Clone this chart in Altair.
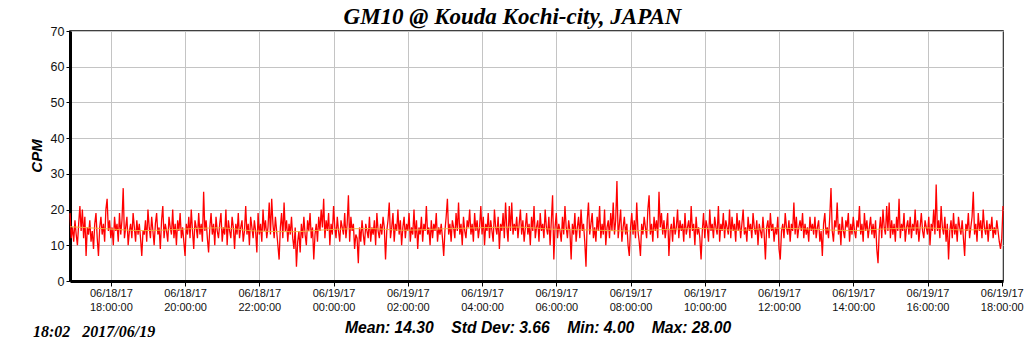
import altair as alt
import pandas as pd

cpm_a = [19, 12, 15, 11, 17, 13, 10, 16, 21, 14, 20, 12, 18, 7, 15, 13, 17, 11, 14, 9,
         16, 19, 12, 7, 15, 18, 13, 16, 11, 20, 23, 14, 17, 12, 15, 10, 18, 14, 16, 11,
         19, 13, 17, 26, 12, 15, 18, 10, 14, 16, 12, 19, 15, 11, 17, 13, 16, 12, 7, 14]
cpm_b = [13, 17, 11, 20, 15, 12, 18, 14, 10, 16, 19, 13, 15, 9, 17, 21, 12, 16, 14, 11,
         18, 15, 13, 20, 12, 16, 10, 17, 14, 19, 12, 15, 11, 7, 16, 13, 18, 12, 20, 14,
         9, 17, 15, 12, 19, 13, 16, 11, 25, 14, 17, 12, 8, 15, 19, 13, 16, 10, 18, 14]
cpm_c = [12, 16, 19, 11, 15, 13, 20, 10, 17, 14, 12, 18, 15, 9, 16, 13, 19, 12, 15, 17,
         11, 14, 21, 13, 16, 10, 18, 15, 12, 17, 14, 8, 19, 13, 16, 11, 20, 14, 17, 12,
         15, 22, 13, 23, 16, 12, 18, 14, 10, 6, 15, 19, 12, 22, 14, 17, 11, 16, 13, 18]
cpm_d = [12, 9, 15, 4, 11, 14, 8, 16, 12, 18, 13, 10, 17, 14, 19, 12, 15, 6, 13, 16,
         11, 18, 14, 20, 15, 23, 12, 17, 14, 19, 10, 16, 13, 21, 15, 12, 18, 14, 11, 17,
         15, 13, 19, 12, 16, 24, 11, 18, 14, 16, 9, 13, 12, 5, 15, 11, 17, 13, 10, 16]
cpm_e = [14, 12, 18, 11, 15, 13, 17, 10, 19, 14, 12, 16, 13, 18, 15, 6, 14, 17, 22, 12,
         15, 19, 11, 16, 14, 20, 13, 17, 10, 15, 18, 12, 16, 14, 19, 11, 15, 13, 20, 12,
         17, 9, 15, 13, 18, 11, 16, 14, 21, 13, 15, 10, 17, 12, 16, 14, 19, 11, 15, 13]
cpm_f = [16, 12, 7, 14, 18, 23, 13, 16, 11, 17, 15, 12, 19, 14, 22, 13, 16, 10, 18, 14,
         12, 17, 15, 20, 13, 16, 11, 19, 14, 17, 12, 15, 21, 13, 18, 10, 16, 14, 19, 12,
         17, 14, 11, 20, 15, 13, 18, 9, 16, 14, 19, 12, 22, 15, 11, 21, 14, 22, 13, 16]
cpm_g = [14, 18, 12, 16, 20, 13, 17, 11, 15, 19, 13, 16, 10, 18, 14, 21, 12, 15, 17, 11,
         19, 14, 16, 12, 20, 15, 13, 18, 10, 17, 24, 6, 15, 19, 12, 16, 14, 11, 18, 13,
         21, 15, 12, 17, 14, 6, 16, 13, 19, 11, 15, 18, 12, 20, 14, 16, 11, 4, 17, 22]
cpm_h = [13, 16, 19, 12, 15, 11, 18, 14, 21, 12, 16, 13, 20, 10, 15, 17, 12, 19, 14, 22,
         13, 17, 28, 12, 16, 20, 11, 15, 18, 13, 16, 10, 7, 15, 19, 13, 17, 12, 22, 14,
         11, 7, 16, 13, 18, 15, 12, 20, 24, 13, 16, 11, 18, 14, 17, 12, 25, 15, 19, 13]
cpm_i = [17, 12, 15, 19, 7, 14, 16, 11, 18, 13, 15, 20, 12, 17, 14, 16, 11, 19, 13, 15,
         17, 12, 21, 14, 16, 10, 18, 13, 15, 12, 6, 14, 19, 12, 17, 15, 11, 20, 14, 16,
         12, 18, 15, 13, 21, 11, 16, 14, 19, 12, 17, 15, 13, 20, 12, 18, 14, 16, 11, 19]
cpm_j = [14, 17, 12, 16, 20, 13, 15, 11, 18, 14, 16, 12, 19, 15, 13, 17, 10, 16, 14, 12,
         18, 13, 6, 15, 17, 12, 19, 14, 16, 11, 15, 13, 18, 9, 6, 14, 16, 12, 19, 15,
         13, 17, 11, 16, 14, 22, 13, 18, 12, 15, 17, 14, 19, 12, 16, 13, 15, 11, 18, 14]
cpm_k = [16, 13, 18, 12, 15, 17, 11, 14, 7, 16, 19, 13, 15, 12, 18, 26, 14, 11, 17, 15,
         22, 13, 16, 10, 18, 14, 12, 17, 15, 19, 11, 16, 13, 18, 14, 12, 17, 15, 21, 13,
         16, 11, 19, 14, 17, 12, 15, 18, 13, 16, 12, 17, 9, 5, 14, 18, 12, 20, 15, 13]
cpm_l = [21, 14, 22, 12, 17, 13, 16, 11, 18, 14, 23, 12, 16, 14, 19, 11, 15, 17, 13, 18,
         12, 16, 14, 20, 13, 17, 11, 15, 19, 14, 12, 17, 15, 13, 18, 10, 16, 14, 20, 13,
         27, 14, 17, 12, 21, 15, 13, 18, 11, 16, 6, 14, 17, 12, 19, 13, 16, 11, 18, 15]
cpm_m = [13, 17, 12, 7, 16, 14, 19, 12, 15, 18, 25, 13, 16, 11, 19, 14, 17, 12, 20, 15,
         13, 17, 11, 16, 14, 18, 12, 15, 13, 17, 14, 11, 9, 12, 21]

# smoothed (hourly) level, the thin orange line
trend = [15.2, 14.6, 14.1, 14.5, 14.9, 14.0, 13.8, 14.4, 14.7, 14.2, 14.6, 14.9, 15.1,
         14.5, 14.3, 14.0, 14.4, 14.7, 14.2, 14.8, 14.5, 14.1, 14.6, 14.9, 14.3, 14.4]

y_ticks = [0, 10, 20, 30, 40, 50, 60, 70]

title_text = "GM10 @ Kouda Kochi-city, JAPAN"
stamp_text = "18:02\u00a0\u00a0\u00a02017/06/19"
stats_text = "\u00a0\u00a0\u00a0\u00a0".join(["Mean: 14.30", "Std Dev: 3.66", "Min: 4.00", "Max: 28.00"])

cpm = cpm_a + cpm_b + cpm_c + cpm_d + cpm_e + cpm_f + cpm_g + cpm_h + cpm_i + cpm_j + cpm_k + cpm_l + cpm_m
start = pd.Timestamp("2017-06-18 16:54:00")
fmt = "%Y-%m-%dT%H:%M:%SZ"
df = pd.DataFrame({
    "time": [(start + pd.Timedelta(minutes=2 * i)).strftime(fmt) for i in range(len(cpm))],
    "cpm": cpm,
})
df_trend = pd.DataFrame({
    "time": [(start + pd.Timedelta(hours=i)).strftime(fmt) for i in range(len(trend))],
    "cpm": trend,
})

x_scale = alt.Scale(
    type="utc",
    domain=[alt.DateTime(year=2017, month=6, date=18, hours=16, minutes=54, utc=True),
            alt.DateTime(year=2017, month=6, date=19, hours=18, minutes=2, utc=True)],
)
y_scale = alt.Scale(domain=[0, 70], nice=False)
tick_vals = [alt.DateTime(year=2017, month=6, date=18 + (h // 24), hours=h % 24, utc=True)
             for h in range(18, 43, 2)]

x_axis = alt.Axis(
    values=tick_vals, tickCount=30,
    labelExpr="[utcFormat(datum.value, '%m/%d/%y'), utcFormat(datum.value, '%H:%M:%S')]",
    title=None, grid=True, gridColor="#c4c4c4", gridWidth=1,
    tickSize=5, tickColor="black", domainColor="black", domainWidth=3,
    labelFont="Liberation Sans", labelFontSize=11, labelColor="#111",
    labelLineHeight=14, labelPadding=1, labelOverlap=False, labelFlush=False, labelBound=False,
)
y_axis = alt.Axis(
    values=y_ticks, tickCount=20, title=None, grid=True,
    gridColor="#c4c4c4", gridWidth=1,
    tickSize=4, tickColor="black", domainColor="black", domainWidth=3,
    labelFont="Liberation Sans", labelFontSize=12.5, labelColor="#111", labelPadding=2,
    labelOverlap=False, labelFlush=False, labelBound=False,
)

line = alt.Chart(df).mark_line(color="#ff0000", strokeWidth=1.3).encode(
    x=alt.X("time:T", scale=x_scale, axis=x_axis),
    y=alt.Y("cpm:Q", scale=y_scale, axis=y_axis),
)
trend_line = alt.Chart(df_trend).mark_line(
    color="#f0b040", strokeWidth=1, opacity=0.9, interpolate="monotone"
).encode(
    x=alt.X("time:T", scale=x_scale, axis=x_axis),
    y=alt.Y("cpm:Q", scale=y_scale, axis=y_axis),
)

def label(text, x, y, font, size, align="center", angle=None, baseline="alphabetic"):
    kw = dict(font=font, fontSize=size, fontStyle="italic", fontWeight="bold",
              color="black", align=align, baseline=baseline)
    if angle is not None:
        kw["angle"] = angle
    return alt.Chart(pd.DataFrame({"t": [text]})).mark_text(**kw).encode(
        text="t:N", x=alt.value(x), y=alt.value(y))

title = label(title_text, 442.5, -7, "Liberation Serif", 23)
ylab = label("CPM", -33, 125, "Liberation Sans", 15, angle=270, baseline="middle")
stamp = label(stamp_text, -37, 306, "Liberation Serif", 16, align="left")
stats = label(stats_text, 468, 302, "Liberation Sans", 15.7)

chart = alt.layer(line, trend_line, title, ylab, stamp, stats).properties(
    width=933, height=250,
    autosize=alt.AutoSizeParams(type="none"),
    padding={"left": 70, "top": 31, "right": 21, "bottom": 70},
    background="white",
).configure_view(stroke="black", strokeWidth=1.5)

chart.save("out.html", embed_options={"renderer": "svg", "actions": False})
